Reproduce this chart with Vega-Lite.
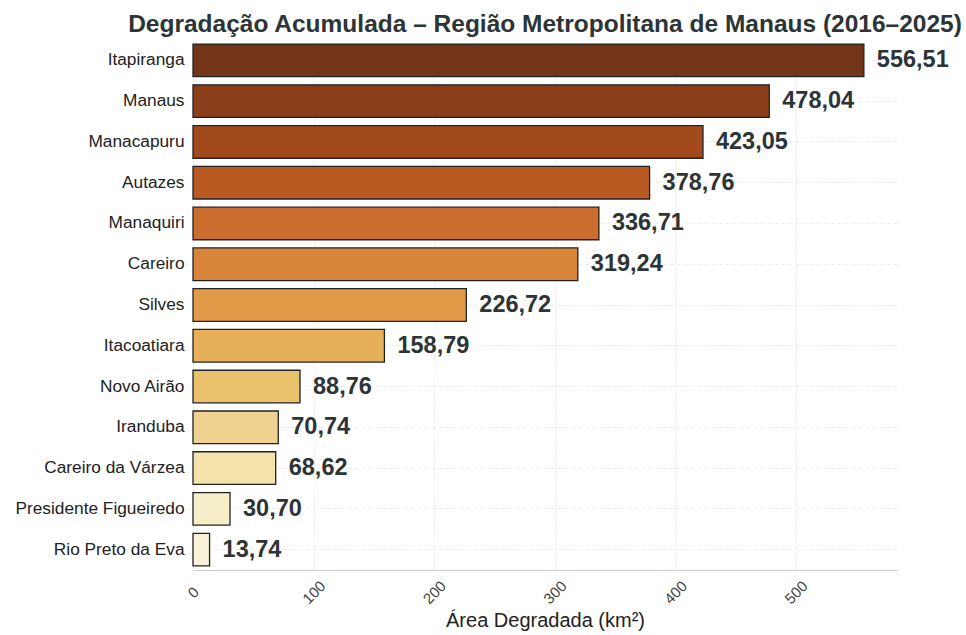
{
  "$schema": "https://vega.github.io/schema/vega-lite/v6.json",
  "width": 704,
  "height": 530,
  "autosize": {"type": "none"},
  "padding": {"left": 193, "top": 40, "right": 69, "bottom": 65},
  "background": "white",
  "config": {
    "locale": {"number": {"decimal": ",", "thousands": ".", "grouping": [3], "currency": ["R$", ""]}},
    "view": {"stroke": null},
    "font": "Arial, 'Liberation Sans', sans-serif"
  },
  "title": {
    "text": "Degradação Acumulada – Região Metropolitana de Manaus (2016–2025)",
    "anchor": "middle",
    "fontSize": 24.5,
    "fontWeight": "bold",
    "color": "#2d3436",
    "offset": 3,
    "font": "Arial, 'Liberation Sans', sans-serif"
  },
  "data": {
    "values": [
      {"municipio": "Itapiranga", "area": 556.51, "cor": "#723518"},
      {"municipio": "Manaus", "area": 478.04, "cor": "#8B3E1A"},
      {"municipio": "Manacapuru", "area": 423.05, "cor": "#A24A1C"},
      {"municipio": "Autazes", "area": 378.76, "cor": "#B95A22"},
      {"municipio": "Manaquiri", "area": 336.71, "cor": "#CB6D2E"},
      {"municipio": "Careiro", "area": 319.24, "cor": "#D8843A"},
      {"municipio": "Silves", "area": 226.72, "cor": "#E29B48"},
      {"municipio": "Itacoatiara", "area": 158.79, "cor": "#E6AF5A"},
      {"municipio": "Novo Airão", "area": 88.76, "cor": "#E9C06C"},
      {"municipio": "Iranduba", "area": 70.74, "cor": "#EFD28F"},
      {"municipio": "Careiro da Várzea", "area": 68.62, "cor": "#F3E2AA"},
      {"municipio": "Presidente Figueiredo", "area": 30.70, "cor": "#F6EEC8"},
      {"municipio": "Rio Preto da Eva", "area": 13.74, "cor": "#F8F3D8"}
    ]
  },
  "encoding": {
    "y": {
      "field": "municipio",
      "type": "nominal",
      "sort": null,
      "scale": {"paddingInner": 0.2, "paddingOuter": 0.1},
      "axis": {
        "title": null,
        "domain": false,
        "ticks": false,
        "labelFontSize": 17.3,
        "labelColor": "#222222",
        "labelPadding": 9,
        "grid": true,
        "gridDash": [4, 3],
        "gridColor": "#e6e6e6",
        "gridWidth": 0.8
      }
    },
    "x": {
      "field": "area",
      "type": "quantitative",
      "scale": {"domain": [0, 584], "nice": false},
      "axis": {
        "title": "Área Degradada (km²)",
        "titleFontSize": 20,
        "titleFontWeight": "normal",
        "titleColor": "#222222",
        "titlePadding": 4,
        "values": [0, 100, 200, 300, 400, 500],
        "labelAngle": -45,
        "labelAlign": "center",
        "labelBaseline": "middle",
        "labelFontSize": 15,
        "labelColor": "#444444",
        "labelPadding": 22,
        "ticks": false,
        "domain": true,
        "domainColor": "#cccccc",
        "domainWidth": 1.2,
        "grid": true,
        "gridDash": [4, 3],
        "gridColor": "#e6e6e6",
        "gridWidth": 0.8
      }
    }
  },
  "layer": [
    {
      "mark": {"type": "bar", "stroke": "#222222", "strokeWidth": 1.3},
      "encoding": {
        "color": {"field": "cor", "type": "nominal", "scale": null, "legend": null}
      }
    },
    {
      "mark": {
        "type": "text",
        "align": "left",
        "baseline": "middle",
        "dx": 13,
        "fontSize": 23.5,
        "fontWeight": "bold",
        "color": "#2d3436"
      },
      "encoding": {
        "text": {"field": "area", "type": "quantitative", "format": ".2f"}
      }
    }
  ]
}
